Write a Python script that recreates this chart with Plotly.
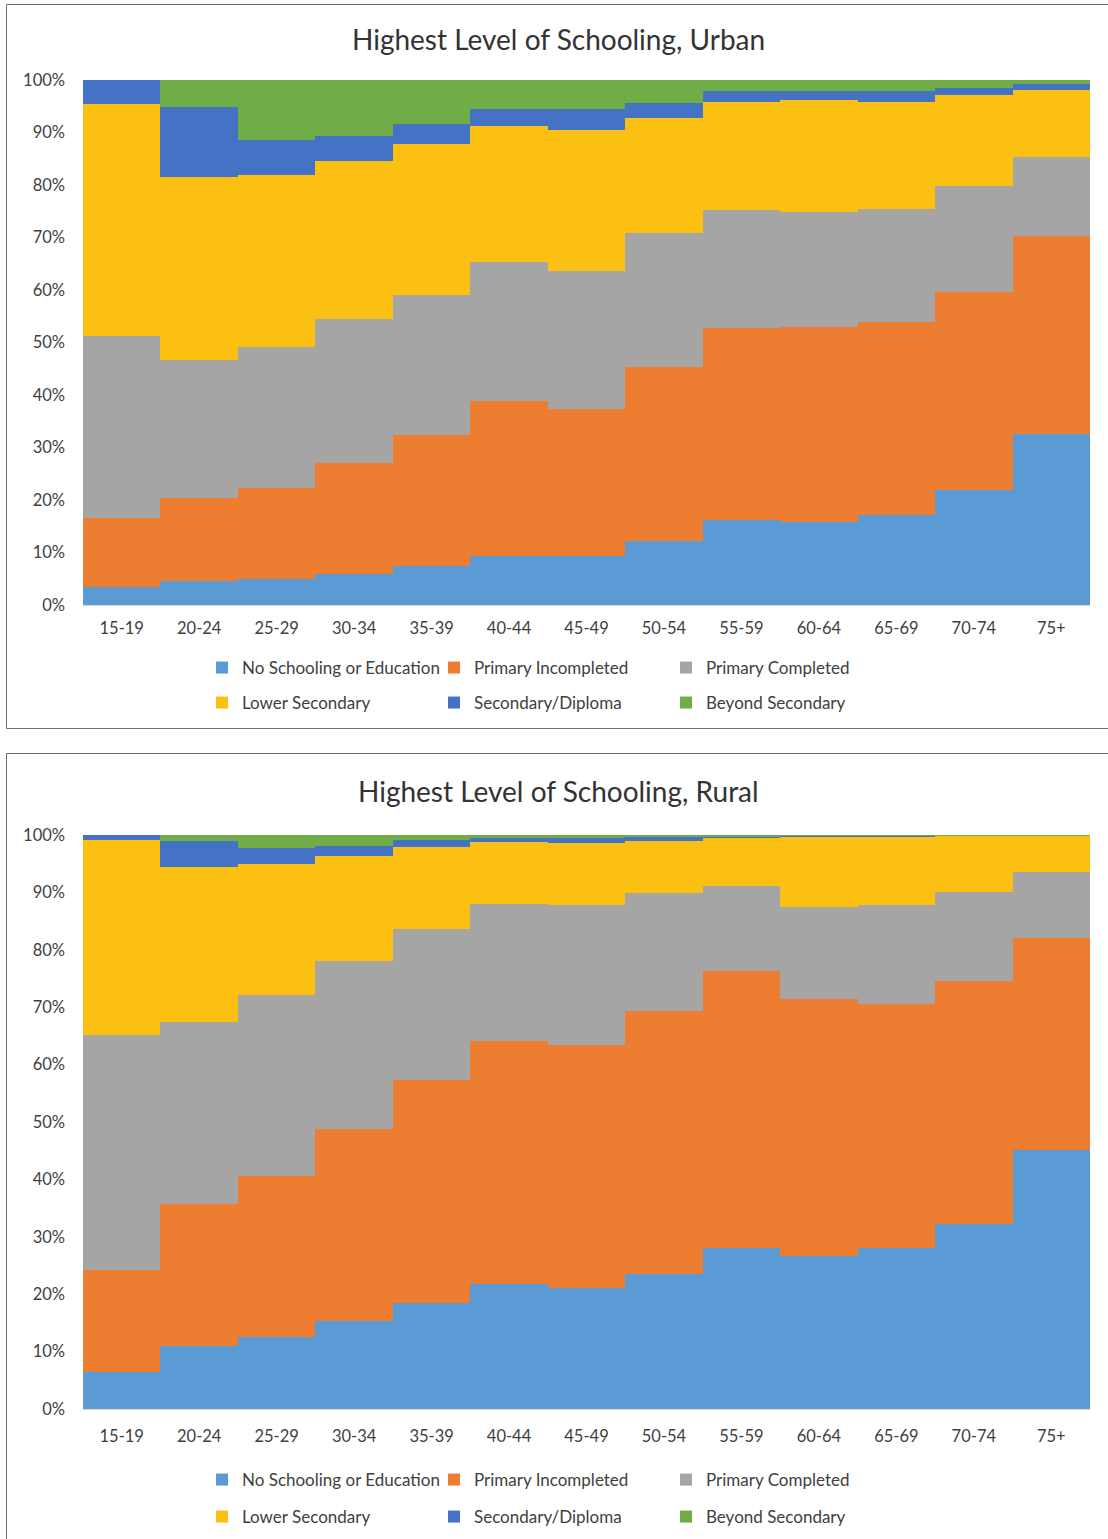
import plotly.graph_objects as go

# ---- data -----------------------------------------------------------------
age_groups = ["15-19", "20-24", "25-29", "30-34", "35-39", "40-44", "45-49",
              "50-54", "55-59", "60-64", "65-69", "70-74", "75+"]

levels = ["No Schooling or Education", "Primary Incompleted", "Primary Completed",
          "Lower Secondary", "Secondary/Diploma", "Beyond Secondary"]

# Urban shares (%) by age group
urban_no_schooling = [3.5, 4.6, 5.0, 5.9, 7.4, 9.4, 9.4, 12.1, 16.2, 15.9, 17.1, 22.0, 32.6]
urban_primary_inc = [13.1, 15.8, 17.3, 21.1, 25.0, 29.5, 28.0, 33.2, 36.6, 37.1, 36.9, 37.7, 37.7]
urban_primary_comp = [34.7, 26.3, 26.9, 27.4, 26.6, 26.4, 26.2, 25.5, 22.4, 21.9, 21.4, 20.1, 15.0]
urban_lower_sec = [44.2, 34.8, 32.7, 30.2, 28.9, 25.9, 26.9, 22.0, 20.7, 21.2, 20.5, 17.3, 12.8]
urban_secondary = [4.5, 13.3, 6.6, 4.7, 3.7, 3.2, 3.9, 2.9, 2.0, 1.8, 2.0, 1.4, 1.1]
urban_beyond = [0.0, 5.2, 11.5, 10.7, 8.4, 5.6, 5.6, 4.3, 2.1, 2.1, 2.1, 1.5, 0.8]

# Rural shares (%) by age group
rural_no_schooling = [6.4, 11.0, 12.5, 15.3, 18.5, 21.8, 21.0, 23.6, 28.0, 26.7, 28.0, 32.3, 45.2]
rural_primary_inc = [17.9, 24.8, 28.1, 33.5, 38.9, 42.3, 42.4, 45.7, 48.3, 44.8, 42.6, 42.3, 36.9]
rural_primary_comp = [40.9, 31.7, 31.5, 29.3, 26.2, 23.9, 24.4, 20.6, 14.9, 16.0, 17.2, 15.5, 11.5]
rural_lower_sec = [34.0, 27.0, 22.8, 18.3, 14.3, 10.7, 10.8, 9.0, 8.3, 12.2, 11.9, 9.8, 6.3]
rural_secondary = [0.8, 4.5, 2.8, 1.6, 1.2, 0.8, 0.8, 0.7, 0.3, 0.2, 0.2, 0.05, 0.05]
rural_beyond = [0.0, 1.0, 2.3, 2.0, 0.9, 0.5, 0.6, 0.4, 0.2, 0.1, 0.1, 0.05, 0.05]

titles = ["Highest Level of Schooling, Urban", "Highest Level of Schooling, Rural"]

colors = ["#5B9BD5", "#ED7D31", "#A5A5A5", "#FBC012", "#4472C4", "#70AD47"]

urban = [urban_no_schooling, urban_primary_inc, urban_primary_comp,
         urban_lower_sec, urban_secondary, urban_beyond]
rural = [rural_no_schooling, rural_primary_inc, rural_primary_comp,
         rural_lower_sec, rural_secondary, rural_beyond]

# ---- page geometry (pixels) -------------------------------------------------
W, H = 1108, 1539
FONT = "Lato"
TEXT = "#404040"


def py(y):
    """pixel row (from top) -> paper fraction"""
    return 1 - y / H


def px(x):
    return x / W


fig = go.Figure()

panels = [
    dict(series=urban, xa="x", ya="y", legends=("legend", "legend2")),
    dict(series=rural, xa="x2", ya="y2", legends=("legend3", "legend4")),
]

for p in panels:
    for i, (name, vals) in enumerate(zip(levels, p["series"])):
        fig.add_trace(go.Bar(
            x=age_groups, y=vals, name=name,
            marker=dict(color=colors[i], line=dict(width=0)),
            xaxis=p["xa"], yaxis=p["ya"],
            legend=p["legends"][0] if i < 3 else p["legends"][1],
            hovertemplate="%{x}: %{y:.1f}%<extra>" + name + "</extra>",
        ))

# plot areas
x_dom = [px(83), px(1090)]
urban_dom = [py(605), py(80)]
rural_dom = [py(1409), py(835)]

axis_x = dict(
    domain=x_dom, type="category", showgrid=False, ticks="",
    showline=True, linecolor="#D9D9D9", linewidth=1, automargin=False,
    tickfont=dict(family=FONT, size=16.5, color=TEXT),
    ticklabelstandoff=8, fixedrange=True,
)
axis_y = dict(
    range=[0, 100], tickvals=list(range(0, 101, 10)),
    ticktext=[f"{v}%" for v in range(0, 101, 10)],
    showgrid=True, gridcolor="#D9D9D9", gridwidth=1, zeroline=False,
    ticks="", tickfont=dict(family=FONT, size=16.5, color=TEXT), automargin=False,
    ticklabelstandoff=17, fixedrange=True,
)

legend_common = dict(
    orientation="h", xanchor="left", yanchor="middle",
    entrywidth=187, entrywidthmode="pixels",
    font=dict(family=FONT, size=17, color=TEXT),
    bgcolor="rgba(0,0,0,0)", traceorder="normal",
)

fig.update_layout(
    width=W, height=H,
    margin=dict(l=0, r=0, t=0, b=0, autoexpand=False),
    paper_bgcolor="white", plot_bgcolor="white",
    barmode="stack", barnorm="percent", bargap=0,
    xaxis=dict(axis_x, anchor="y"),
    yaxis=dict(axis_y, domain=urban_dom, anchor="x"),
    xaxis2=dict(axis_x, anchor="y2", ticklabelstandoff=12),
    yaxis2=dict(axis_y, domain=rural_dom, anchor="x2"),
    legend=dict(legend_common, x=px(202), y=py(668)),
    legend2=dict(legend_common, x=px(202), y=py(703)),
    legend3=dict(legend_common, x=px(202), y=py(1480)),
    legend4=dict(legend_common, x=px(202), y=py(1517)),
    font=dict(family=FONT, color=TEXT),
)

# chart titles
for title, yc in zip(titles, [39, 791]):
    fig.add_annotation(
        text=title, xref="paper", yref="paper", x=px(558), y=py(yc),
        xanchor="center", yanchor="middle", showarrow=False,
        font=dict(family=FONT, size=28, color="#333333"),
    )

# chart-area frames
frame = dict(type="rect", xref="paper", yref="paper",
             line=dict(color="#6E6E6E", width=1), fillcolor="rgba(0,0,0,0)", layer="above")
fig.add_shape(frame, x0=px(6.5), x1=1.02, y0=py(728.5), y1=py(4.5))
fig.add_shape(frame, x0=px(6.5), x1=1.02, y0=-0.02, y1=py(753.5))

fig.write_html("out.html")
